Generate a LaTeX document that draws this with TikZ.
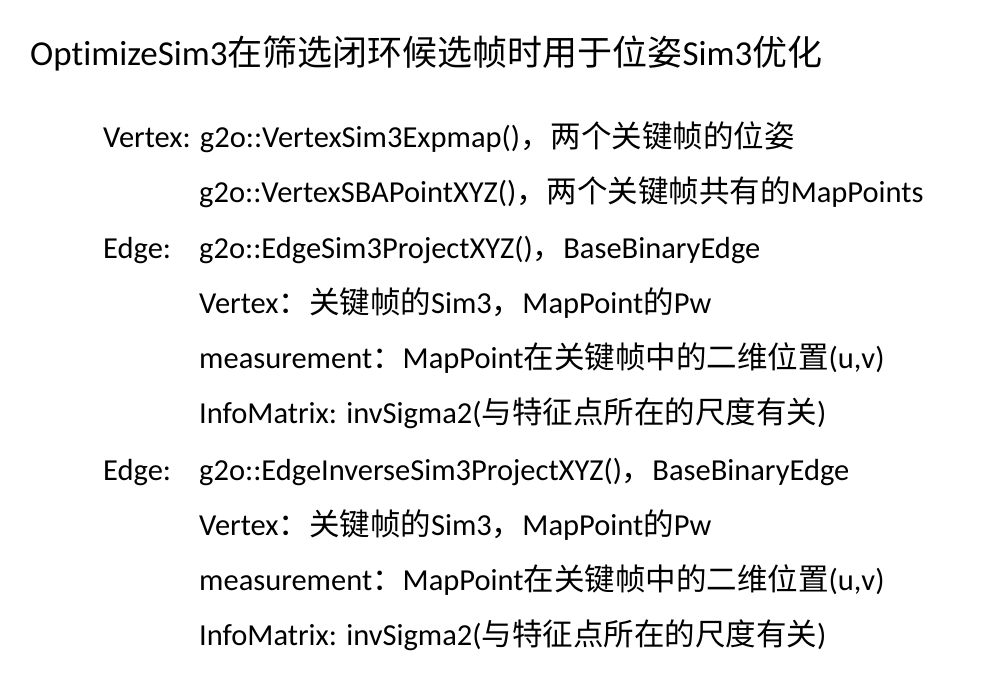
\documentclass[tikz,border=0pt]{standalone}
\usepackage{fontspec}
\setmainfont[Ligatures=NoCommon]{Carlito}
\newfontfamily\cjk{Noto Sans CJK SC}
\newcommand{\zh}[1]{{\cjk #1}}
\begin{document}
\begin{tikzpicture}[x=1pt,y=-1pt,
  body/.style={anchor=base west,inner sep=0pt,font=\fontsize{30.5}{36}\selectfont},
  ttl/.style={anchor=base west,inner sep=0pt,font=\fontsize{35}{40}\selectfont}]
\useasboundingbox (0,0) rectangle (981,676);
\node[ttl] (t) at (30,66) {OptimizeSim3\zh{在筛选闭环候选帧时用于位姿}Sim3\zh{优化}};
\node[body] (l1) at (103,148) {Vertex: g2o::VertexSim3Expmap()\zh{，两个关键帧的位姿}};
\node[body] (l2) at (199,203) {g2o::VertexSBAPointXYZ()\zh{，两个关键帧共有的}MapPoints};
\node[body] (l3a) at (103,258) {Edge:};
\node[body] (l3) at (199,258) {g2o::EdgeSim3ProjectXYZ()\zh{，}BaseBinaryEdge};
\node[body] (l4) at (199,313) {Vertex\zh{：关键帧的}Sim3\zh{，}MapPoint\zh{的}Pw};
\node[body] (l5) at (199,368) {measurement\zh{：}MapPoint\zh{在关键帧中的二维位置}(u,v)};
\node[body] (l6) at (199,423) {InfoMatrix: invSigma2(\zh{与特征点所在的尺度有关})};
\node[body] (l7a) at (103,480) {Edge:};
\node[body] (l7) at (199,480) {g2o::EdgeInverseSim3ProjectXYZ()\zh{，}BaseBinaryEdge};
\node[body] (l8) at (199,535) {Vertex\zh{：关键帧的}Sim3\zh{，}MapPoint\zh{的}Pw};
\node[body] (l9) at (199,590) {measurement\zh{：}MapPoint\zh{在关键帧中的二维位置}(u,v)};
\node[body] (l10) at (199,645) {InfoMatrix: invSigma2(\zh{与特征点所在的尺度有关})};
\end{tikzpicture}
\end{document}
